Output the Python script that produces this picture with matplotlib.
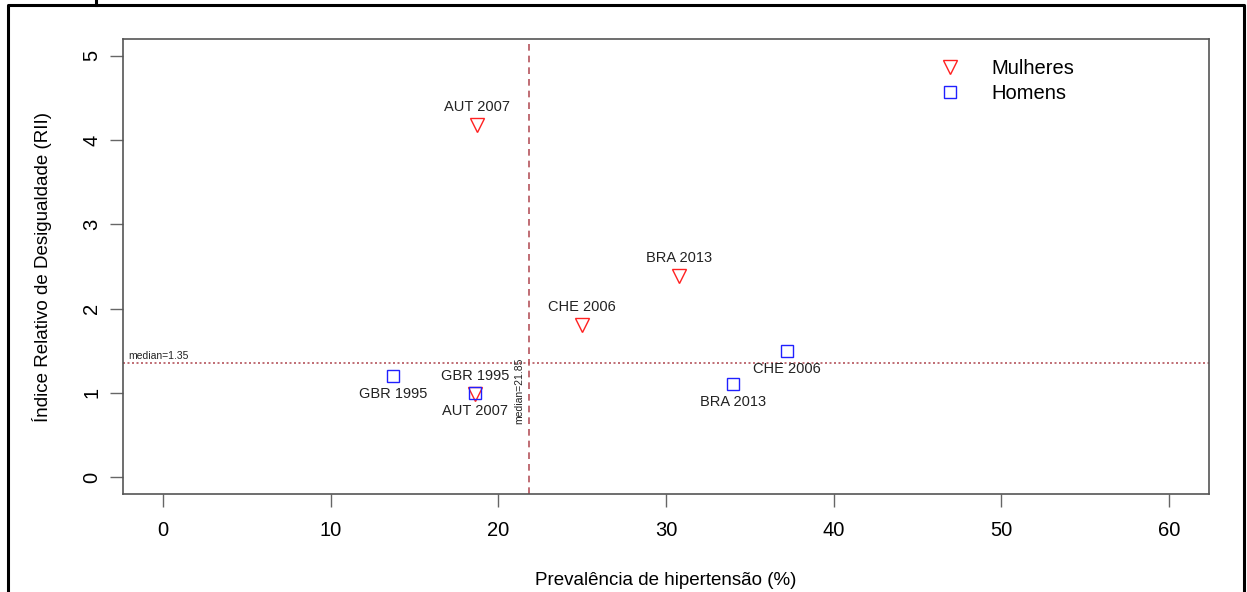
import matplotlib
matplotlib.use("Agg")
import matplotlib.pyplot as plt
from matplotlib.lines import Line2D

plt.rcParams['font.family'] = ['Liberation Sans', 'DejaVu Sans']

# women (red triangles) and men (blue squares)
women_labels = ['AUT 2007', 'BRA 2013', 'CHE 2006', 'GBR 1995']
women_x = [18.7, 30.8, 25.0, 18.6]
women_y = [4.18, 2.39, 1.80, 0.99]

men_labels = ['AUT 2007', 'BRA 2013', 'CHE 2006', 'GBR 1995']
men_x = [18.6, 34.0, 37.2, 13.7]
men_y = [1.00, 1.11, 1.50, 1.20]

median_x = 21.85
median_y = 1.35

x_ticks = [0, 10, 20, 30, 40, 50, 60]
y_ticks = [0, 1, 2, 3, 4, 5]

W, H = 1247, 592
fig = plt.figure(figsize=(W / 100, H / 100), dpi=100)
ax = fig.add_axes([123 / W, 1 - 494 / H, (1209 - 123) / W, (494 - 39) / H])

line_col = '#b5545c'
ax.axvline(median_x, color=line_col, lw=1.2, ls=(0, (4, 3)))
ax.axhline(median_y, color=line_col, lw=1.2, ls=(0, (1.2, 1.5)))

ax.plot(women_x, women_y, ls='none', marker='v', ms=10, mfc='none',
        mec='#ff2020', mew=1.0, label='Mulheres')
ax.plot(men_x, men_y, ls='none', marker='s', ms=8, mfc='none',
        mec='#2020ff', mew=1.0, label='Homens')

for lab, x, y in zip(women_labels, women_x, women_y):
    ax.annotate(lab, (x, y), xytext=(0, 13), textcoords='offset points',
                ha='center', va='center', fontsize=10.5, color='#222222')
for lab, x, y in zip(men_labels, men_x, men_y):
    ax.annotate(lab, (x, y), xytext=(0, -13), textcoords='offset points',
                ha='center', va='center', fontsize=10.5, color='#222222')

ax.text(0.005, median_y + 0.03, 'median=1.35', transform=ax.get_yaxis_transform(),
        fontsize=7.5, ha='left', va='bottom', color='#222222')
ax.annotate('median=21.85', (median_x, 1.03), xytext=(-4, 0), textcoords='offset points',
            rotation=90, ha='right', va='center', fontsize=7.5, color='#222222')

ax.set_xlim(-2.4, 62.4)
ax.set_ylim(-0.2, 5.2)
ax.set_xticks(x_ticks)
ax.set_yticks(y_ticks)
ax.tick_params(axis='both', length=9.5, width=1, color='#666666', labelsize=14.5)
ax.tick_params(axis='x', pad=10)
ax.tick_params(axis='y', pad=6)
for lab in ax.get_yticklabels():
    lab.set_rotation(90)
    lab.set_va('center')
for s in ax.spines.values():
    s.set_color('#555555')
    s.set_linewidth(1.2)

ax.set_xlabel('Prevalência de hipertensão (%)', fontsize=13.5, labelpad=23)
ax.set_ylabel('Índice Relativo de Desigualdade (RII)', fontsize=13.5, labelpad=22)

ax.legend(loc='upper left', bbox_to_anchor=(0.731, 0.995), frameon=False,
          fontsize=14.5, handletextpad=1.3, labelspacing=0.3, handlelength=1.5)

# outer frame of the source image
def px_line(xs, ys):
    fig.add_artist(Line2D([x / W for x in xs], [1 - y / H for y in ys],
                          color='black', lw=2.2, transform=fig.transFigure))

px_line([8, 1244, 1244, 8, 8], [600, 600, 4.5, 4.5, 600])
px_line([96, 96], [0, 4.5])

fig.savefig('out.png', dpi=100)
